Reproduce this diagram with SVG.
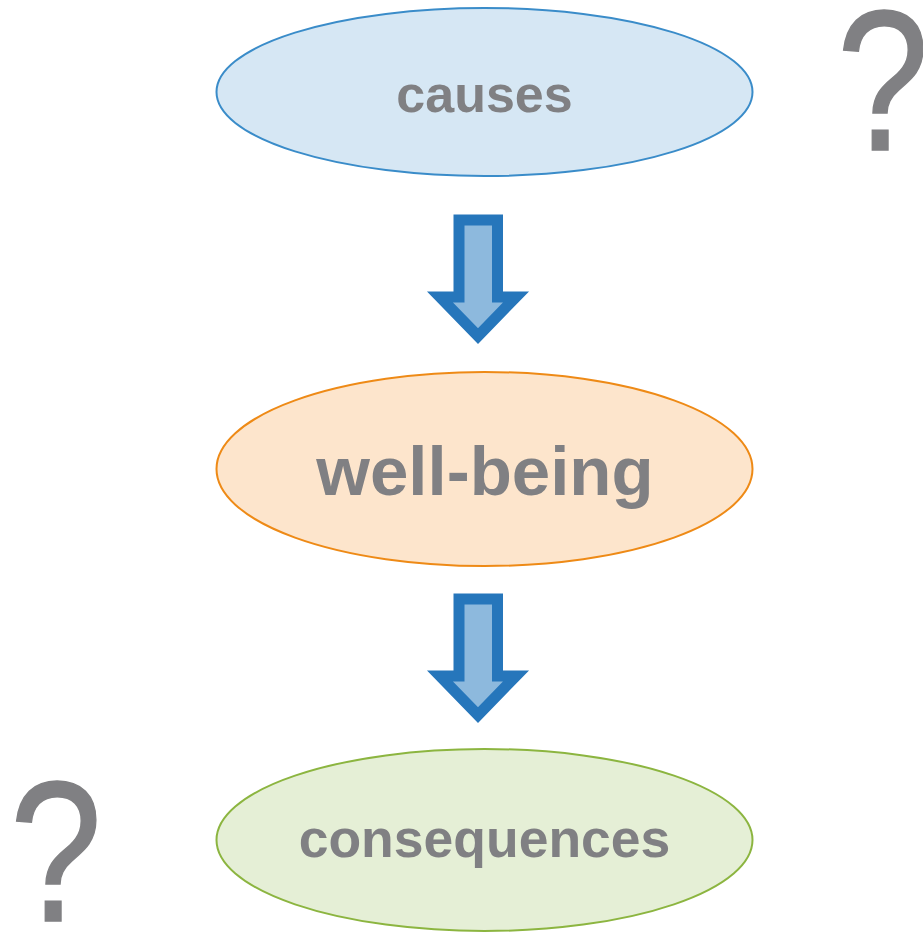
<svg xmlns="http://www.w3.org/2000/svg" width="923" height="934" viewBox="0 0 923 934">
  <style>
    .label { font-family: "Liberation Sans", Arial, sans-serif; font-weight: bold; fill: #808083; text-anchor: middle; }
    .qmark { font-family: "Liberation Sans", Arial, sans-serif; fill: #808083; stroke: #808083; stroke-width: 1.5; text-anchor: middle; font-size: 200px; }
    .arrow { fill: #8db9dd; stroke: #2676bb; stroke-width: 11; stroke-linejoin: miter; stroke-miterlimit: 10; }
  </style>
  <defs>
    <path id="down-arrow" d="M459,220 L497.5,220 L497.5,297 L516,297 L478,336 L440,297 L459,297 Z"/>
  </defs>
  <rect width="923" height="934" fill="#ffffff"/>

  <g id="causes">
    <ellipse cx="484.5" cy="92" rx="268" ry="84" fill="#d6e7f4" stroke="#3a8cc9" stroke-width="2"/>
    <text class="label" x="484.5" y="112" font-size="52">causes</text>
  </g>

  <g id="well-being">
    <ellipse cx="484.5" cy="469" rx="268" ry="97" fill="#fde5cc" stroke="#ee8a16" stroke-width="2"/>
    <text class="label" x="485" y="495" font-size="69">well-being</text>
  </g>

  <g id="consequences">
    <ellipse cx="484.5" cy="840" rx="268" ry="91" fill="#e5efd6" stroke="#8cb540" stroke-width="2"/>
    <text class="label" x="484.5" y="857" font-size="53.5">consequences</text>
  </g>

  <g id="connectors">
    <use href="#down-arrow" class="arrow"/>
    <use href="#down-arrow" class="arrow" transform="translate(0,379)"/>
  </g>

  <g id="question-top">
    <text class="qmark" transform="translate(883,150) scale(0.83,1)">?</text>
  </g>
  <g id="question-bottom">
    <text class="qmark" transform="translate(56,921) scale(0.83,1)">?</text>
  </g>
</svg>
